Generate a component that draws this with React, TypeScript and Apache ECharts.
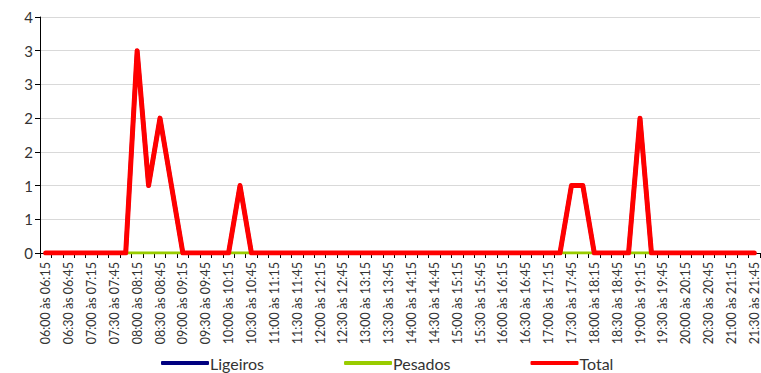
import React, { useEffect, useRef } from "react";
import * as echarts from "echarts";

const categories: string[] = [
  "06:00 às 06:15", "06:15 às 06:30", "06:30 às 06:45", "06:45 às 07:00",
  "07:00 às 07:15", "07:15 às 07:30", "07:30 às 07:45", "07:45 às 08:00",
  "08:00 às 08:15", "08:15 às 08:30", "08:30 às 08:45", "08:45 às 09:00",
  "09:00 às 09:15", "09:15 às 09:30", "09:30 às 09:45", "09:45 às 10:00",
  "10:00 às 10:15", "10:15 às 10:30", "10:30 às 10:45", "10:45 às 11:00",
  "11:00 às 11:15", "11:15 às 11:30", "11:30 às 11:45", "11:45 às 12:00",
  "12:00 às 12:15", "12:15 às 12:30", "12:30 às 12:45", "12:45 às 13:00",
  "13:00 às 13:15", "13:15 às 13:30", "13:30 às 13:45", "13:45 às 14:00",
  "14:00 às 14:15", "14:15 às 14:30", "14:30 às 14:45", "14:45 às 15:00",
  "15:00 às 15:15", "15:15 às 15:30", "15:30 às 15:45", "15:45 às 16:00",
  "16:00 às 16:15", "16:15 às 16:30", "16:30 às 16:45", "16:45 às 17:00",
  "17:00 às 17:15", "17:15 às 17:30", "17:30 às 17:45", "17:45 às 18:00",
  "18:00 às 18:15", "18:15 às 18:30", "18:30 às 18:45", "18:45 às 19:00",
  "19:00 às 19:15", "19:15 às 19:30", "19:30 às 19:45", "19:45 às 20:00",
  "20:00 às 20:15", "20:15 às 20:30", "20:30 às 20:45", "20:45 às 21:00",
  "21:00 às 21:15", "21:15 às 21:30", "21:30 às 21:45",
];

const ligeiros: number[] = [
  0, 0, 0, 0, 0, 0, 0, 0,
  3, 1, 2, 1, 0, 0, 0, 0,
  0, 1, 0, 0, 0, 0, 0, 0,
  0, 0, 0, 0, 0, 0, 0, 0,
  0, 0, 0, 0, 0, 0, 0, 0,
  0, 0, 0, 0, 0, 0, 1, 1,
  0, 0, 0, 0, 2, 0, 0, 0,
  0, 0, 0, 0, 0, 0, 0,
];

const pesados: number[] = [
  0, 0, 0, 0, 0, 0, 0, 0,
  0, 0, 0, 0, 0, 0, 0, 0,
  0, 0, 0, 0, 0, 0, 0, 0,
  0, 0, 0, 0, 0, 0, 0, 0,
  0, 0, 0, 0, 0, 0, 0, 0,
  0, 0, 0, 0, 0, 0, 0, 0,
  0, 0, 0, 0, 0, 0, 0, 0,
  0, 0, 0, 0, 0, 0, 0,
];

const total: number[] = [
  0, 0, 0, 0, 0, 0, 0, 0,
  3, 1, 2, 1, 0, 0, 0, 0,
  0, 1, 0, 0, 0, 0, 0, 0,
  0, 0, 0, 0, 0, 0, 0, 0,
  0, 0, 0, 0, 0, 0, 0, 0,
  0, 0, 0, 0, 0, 0, 1, 1,
  0, 0, 0, 0, 2, 0, 0, 0,
  0, 0, 0, 0, 0, 0, 0,
];

const seriesNames = ["Ligeiros", "Pesados", "Total"];
const seriesColors = ["#000080", "#99CC00", "#FF0000"];

const FONT = "Lato, 'Open Sans', sans-serif";

export default function App() {
  const ref = useRef<HTMLDivElement>(null);

  useEffect(() => {
    if (!ref.current) return;
    const chart = echarts.init(ref.current, undefined, { renderer: "svg" });
    const dataSets = [ligeiros, pesados, total];
    const widths = [4, 3, 5];
    chart.setOption({
      animation: false,
      backgroundColor: "#ffffff",
      textStyle: { fontFamily: FONT },
      grid: {
        left: 40,
        right: 1,
        top: 17,
        bottom: 120,
        containLabel: false,
        outerBoundsMode: "none",
      },
      legend: {
        data: seriesNames,
        left: 161,
        top: 354,
        padding: 0,
        itemGap: 80,
        itemWidth: 48,
        itemHeight: 4,
        icon: "roundRect",
        textStyle: { fontFamily: FONT, fontSize: 16, color: "#333333", padding: [0, 0, 0, -4], lineHeight: 18 },
      },
      xAxis: {
        type: "category",
        data: categories,
        boundaryGap: true,
        axisLine: { show: true, lineStyle: { color: "#000000", width: 1 } },
        axisTick: { show: true, interval: 0, length: 5, alignWithLabel: false, lineStyle: { color: "#000000" } },
        axisLabel: {
          interval: 1,
          rotate: 90,
          fontSize: 12.5,
          fontFamily: FONT,
          color: "#333333",
          margin: 9,
        },
        splitLine: { show: false },
      },
      yAxis: {
        type: "value",
        min: 0,
        max: 3.5,
        interval: 0.5,
        axisLine: { show: true, lineStyle: { color: "#000000", width: 1 } },
        axisTick: { show: true, length: 5, lineStyle: { color: "#000000" } },
        axisLabel: {
          fontSize: 15,
          fontFamily: FONT,
          color: "#333333",
          margin: 7,
          formatter: (v: number) => String(Math.round(v)),
        },
        splitLine: { show: true, lineStyle: { color: "#d9d9d9", width: 1 } },
      },
      series: seriesNames.map((name, i) => ({
        name,
        type: "line",
        data: dataSets[i],
        showSymbol: false,
        symbol: "none",
        color: seriesColors[i],
        lineStyle: { color: seriesColors[i], width: widths[i], join: "round", cap: "round" },
        itemStyle: { color: seriesColors[i] },
        z: 2 + i,
      })),
    });
    return () => chart.dispose();
  }, []);

  return (
    <div
      ref={ref}
      style={{ position: "fixed", left: 0, top: 0, width: 761, height: 373, background: "#fff" }}
    />
  );
}
